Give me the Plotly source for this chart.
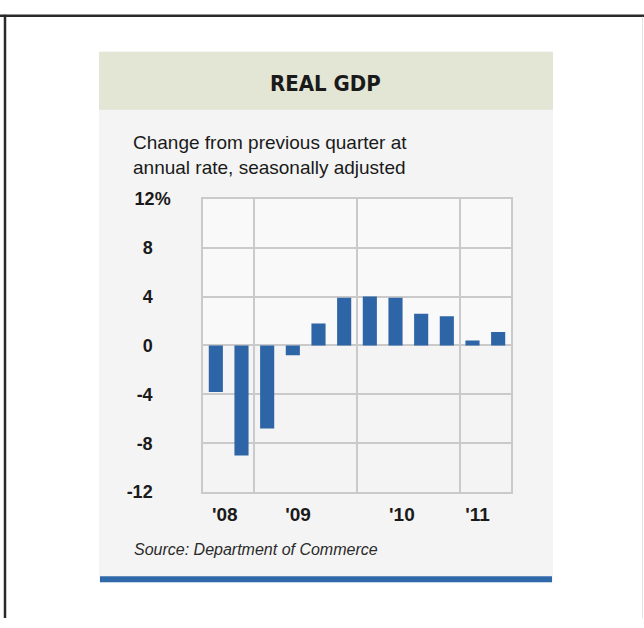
import plotly.graph_objects as go

# Quarterly real GDP change, annualized (%), 2008 Q3 - 2011 Q2
quarters = ["2008 Q3", "2008 Q4", "2009 Q1", "2009 Q2", "2009 Q3", "2009 Q4",
            "2010 Q1", "2010 Q2", "2010 Q3", "2010 Q4", "2011 Q1", "2011 Q2"]
gdp_change = [-3.8, -9.0, -6.8, -0.8, 1.8, 3.9, 4.0, 3.9, 2.6, 2.4, 0.4, 1.1]

year_labels = ["'08", "'09", "'10", "'11"]
year_label_pos = [0.35, 3.2, 7.25, 10.2]
year_breaks = [1.5, 5.5, 9.5]

y_ticks = [-12, -8, -4, 0, 4, 8, 12]
y_ticktext = ["-12\u2003", "-8\u2003", "-4\u2003", "0\u2003", "4\u2003", "8\u2003", "12%"]

W, H = 644, 628
BAR = "#2d65a6"


def px(x):
    return x / W


def py(y):
    return 1 - y / H


x_idx = list(range(len(quarters)))

fig = go.Figure()
fig.add_trace(go.Bar(
    x=x_idx, y=gdp_change, marker=dict(color=BAR, line=dict(width=0)),
    customdata=quarters, hovertemplate="%{customdata}: %{y:.1f}%<extra></extra>",
))

shapes = [
    # outer frame
    dict(type="line", xref="paper", yref="paper", x0=px(0), x1=px(644), y0=py(6), y1=py(6),
         line=dict(color="#2a2a2a", width=2.5)),
    dict(type="line", xref="paper", yref="paper", x0=px(5), x1=px(5), y0=py(5), y1=py(628),
         line=dict(color="#2a2a2a", width=2.5)),
    dict(type="line", xref="paper", yref="paper", x0=px(642.5), x1=px(642.5), y0=py(7), y1=py(628),
         line=dict(color="#e2e2e2", width=1)),
    # card background
    dict(type="rect", xref="paper", yref="paper", x0=px(99), x1=px(553), y0=py(43), y1=py(591),
         fillcolor="#f4f4f4", line=dict(width=0), layer="below"),
    # header band
    dict(type="rect", xref="paper", yref="paper", x0=px(99), x1=px(553), y0=py(43), y1=py(103),
         fillcolor="#e3e5d5", line=dict(width=0), layer="below"),
    # blue rule at the bottom of the card
    dict(type="rect", xref="paper", yref="paper", x0=px(100), x1=px(552), y0=py(585), y1=py(591),
         fillcolor="#2f68a8", line=dict(width=0), layer="below"),
    # positive half of the plot area
    dict(type="rect", xref="x domain", yref="y", x0=0, x1=1, y0=0, y1=12,
         fillcolor="#f9f9f9", line=dict(width=0), layer="below"),
]

annotations = [
    dict(text="<b>REAL GDP</b>", xref="paper", yref="paper", x=px(325), y=py(76),
         xanchor="center", yanchor="middle", showarrow=False,
         font=dict(family="Liberation Sans Narrow, DejaVu Sans Condensed, Arial Narrow, sans-serif",
                   size=22, color="#1a1a1a")),
    dict(text="Change from previous quarter at<br>annual rate, seasonally adjusted",
         xref="paper", yref="paper", x=px(131), y=py(124), xanchor="left", yanchor="top",
         align="left", showarrow=False,
         font=dict(family="Liberation Sans, Arial, sans-serif", size=19, color="#1a1a1a")),
    dict(text="<i>Source: Department of Commerce</i>", xref="paper", yref="paper",
         x=px(132), y=py(557), xanchor="left", yanchor="middle", showarrow=False,
         font=dict(family="Liberation Sans, Arial, sans-serif", size=16, color="#2a2a2a")),
]

fig.update_layout(
    width=W, height=H,
    margin=dict(l=0, r=0, t=0, b=0),
    paper_bgcolor="white",
    plot_bgcolor="#f4f4e6",
    showlegend=False,
    bargap=0.45,
    shapes=shapes,
    annotations=annotations,
    xaxis=dict(
        domain=[px(203), px(511)],
        range=[-0.5, 11.5],
        tickmode="array", tickvals=year_label_pos, ticktext=year_labels,
        showgrid=False, zeroline=False, ticks="",
        ticklabelstandoff=4,
        tickfont=dict(family="Liberation Sans, Arial, sans-serif", size=19, color="#1a1a1a",
                      weight="bold"),
        minor=dict(tickmode="array", tickvals=year_breaks, showgrid=True,
                   gridcolor="#cacaca", gridwidth=1.5, ticks=""),
        showline=True, linecolor="#cacaca", linewidth=1.5, mirror=True,
        fixedrange=True,
    ),
    yaxis=dict(
        domain=[py(498), py(195)],
        range=[-12, 12],
        tickmode="array", tickvals=y_ticks, ticktext=y_ticktext,
        showgrid=True, gridcolor="#cacaca", gridwidth=1.5,
        zeroline=False, ticks="",
        ticklabelstandoff=27,
        tickfont=dict(family="Liberation Sans, Arial, sans-serif", size=18, color="#1a1a1a",
                      weight="bold"),
        showline=True, linecolor="#cacaca", linewidth=1.5, mirror=True,
        fixedrange=True,
    ),
)

# the page body keeps no default margin around the figure
fig.write_html("out.html", post_script="document.body.style.margin = '0';")
